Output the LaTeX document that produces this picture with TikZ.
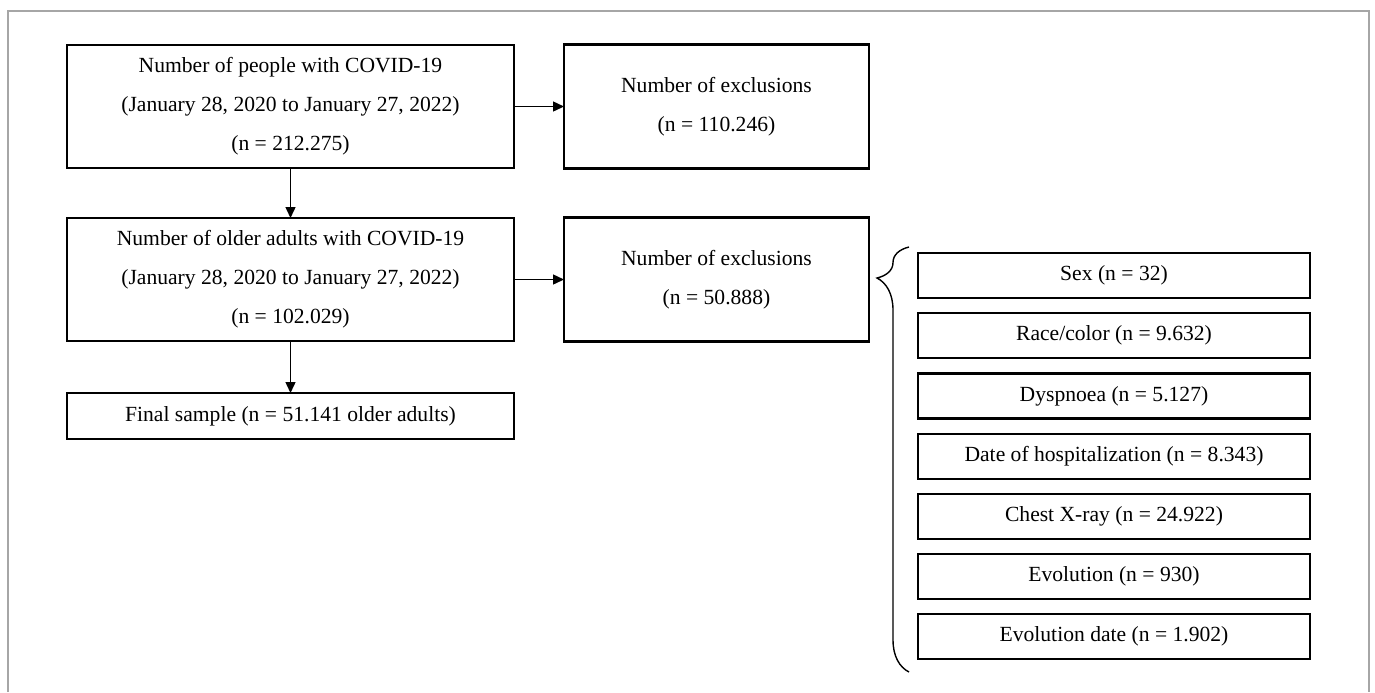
\documentclass[tikz,border=0pt]{standalone}
\usepackage{fontspec}
\setmainfont{Liberation Serif}
\usepackage{tikz}
\usetikzlibrary{arrows.meta,positioning,decorations.pathreplacing}

\begin{document}
\begin{tikzpicture}[
        x=0.5pt,y=-0.5pt,
        node distance=25pt and 25pt,
        font=\fontsize{10.8}{19.5}\selectfont,
        bigbox/.style={draw,line width=1.1pt,outer sep=0pt,align=center,minimum width=223.5pt,minimum height=61.5pt,inner sep=0pt},
        exclbox/.style={draw,line width=1.1pt,outer sep=0pt,align=center,minimum width=152.5pt,minimum height=62pt,inner sep=0pt},
        finalbox/.style={draw,line width=1.1pt,outer sep=0pt,align=center,minimum width=223.5pt,minimum height=23pt,inner sep=0pt},
        causebox/.style={draw,line width=1.1pt,outer sep=0pt,align=center,minimum width=196pt,minimum height=22.5pt,inner sep=0pt},
        arrow/.style={-{Triangle[length=5.5pt,width=5pt]},line width=0.7pt}
    ]
        \useasboundingbox (0,0) rectangle (1375,692);
        \draw[gray!70,line width=0.6pt] (8,692) -- (8,11) -- (1369,11) -- (1369,692);

        \node[bigbox] (people) at (290.5,106.5) {Number of people with COVID-19\\(January 28, 2020 to January 27, 2022)\\(n = 212.275)};
        \node[exclbox,right=of people] (excl1) {Number of exclusions\\(n = 110.246)};
        \node[bigbox,below=of people] (older) {Number of older adults with COVID-19\\(January 28, 2020 to January 27, 2022)\\(n = 102.029)};
        \node[exclbox,right=of older] (excl2) {Number of exclusions\\(n = 50.888)};
        \node[finalbox,below=26pt of older] (final) {Final sample (n = 51.141 older adults)};

        \node[causebox] (sex) at (1114,275.5) {Sex (n = 32)};
        \node[causebox,below=7.6pt of sex] (race) {Race/color (n = 9.632)};
        \node[causebox,below=7.6pt of race] (dysp) {Dyspnoea (n = 5.127)};
        \node[causebox,below=7.6pt of dysp] (hosp) {Date of hospitalization (n = 8.343)};
        \node[causebox,below=7.6pt of hosp] (xray) {Chest X-ray (n = 24.922)};
        \node[causebox,below=7.6pt of xray] (evol) {Evolution (n = 930)};
        \node[causebox,below=7.6pt of evol] (evoldate) {Evolution date (n = 1.902)};

        \coordinate (bracetop) at (909,247);
        \coordinate (bracebot) at (909,672);

        \draw[arrow] (people) -- (excl1);
        \draw[arrow] (people) -- (older);
        \draw[arrow] (older) -- (excl2);
        \draw[arrow] (older) -- (final);
        \draw[line width=0.7pt,decorate,decoration={brace,mirror,amplitude=16pt,aspect=0.073}] (bracetop) -- (bracebot);
    \end{tikzpicture}
\end{document}
